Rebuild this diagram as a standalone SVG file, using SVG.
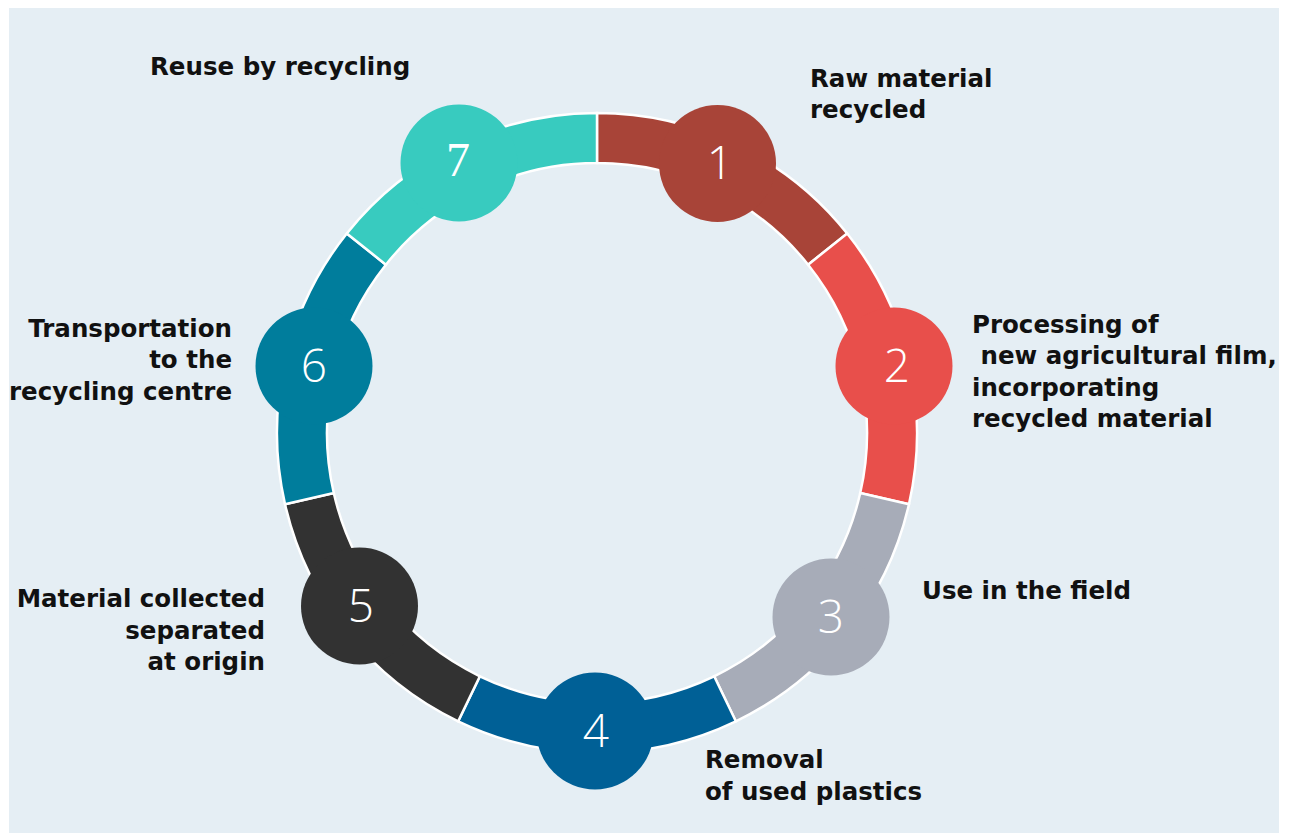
<svg xmlns="http://www.w3.org/2000/svg" width="1292" height="833" viewBox="0 0 1292 833">
<style>
.seg{stroke:#ffffff;stroke-width:2.5;stroke-linejoin:miter}
.lbl{font-family:"DejaVu Sans","Liberation Sans",sans-serif;font-weight:700;font-size:24.5px;fill:#111111}
.num{font-family:"Open Sans","Liberation Sans",sans-serif;font-weight:300;font-size:46px;fill:#ffffff;text-anchor:middle}
.num.serif{font-family:"Liberation Serif","DejaVu Serif",serif;font-weight:400;font-size:48px}
.end{text-anchor:end}
</style>
<rect x="9" y="8" width="1270" height="825" fill="#e5eef4"/>
<g id="ring">
<path class="seg" fill="#a84438" d="M597,113 A320,320 0 0 1 847.19,233.48 L808.09,264.66 A270,270 0 0 0 597,163 Z"/>
<path class="seg" fill="#e84f4b" d="M847.19,233.48 A320,320 0 0 1 908.98,504.21 L860.23,493.08 A270,270 0 0 0 808.09,264.66 Z"/>
<path class="seg" fill="#a7acb8" d="M908.98,504.21 A320,320 0 0 1 735.84,721.31 L714.15,676.26 A270,270 0 0 0 860.23,493.08 Z"/>
<path class="seg" fill="#006096" d="M735.84,721.31 A320,320 0 0 1 458.16,721.31 L479.85,676.26 A270,270 0 0 0 714.15,676.26 Z"/>
<path class="seg" fill="#323232" d="M458.16,721.31 A320,320 0 0 1 285.02,504.21 L333.77,493.08 A270,270 0 0 0 479.85,676.26 Z"/>
<path class="seg" fill="#007d9c" d="M285.02,504.21 A320,320 0 0 1 346.81,233.48 L385.91,264.66 A270,270 0 0 0 333.77,493.08 Z"/>
<path class="seg" fill="#38cbbf" d="M346.81,233.48 A320,320 0 0 1 597,113 L597,163 A270,270 0 0 0 385.91,264.66 Z"/>
</g>
<g id="node1"><circle cx="717.5" cy="163.5" r="58.5" fill="#a84438"/><text class="num" x="720" y="179">1</text>
<text class="lbl" x="810" y="87">Raw material</text><text class="lbl" x="810" y="118">recycled</text></g>
<g id="node2"><circle cx="894" cy="366" r="58.5" fill="#e84f4b"/><text class="num" x="897" y="382">2</text>
<text class="lbl" x="972" y="333">Processing of</text><text class="lbl" x="972" y="364" xml:space="preserve"> new agricultural film,</text><text class="lbl" x="972" y="396">incorporating</text><text class="lbl" x="972" y="427">recycled material</text></g>
<g id="node3"><circle cx="831" cy="617" r="58.5" fill="#a7acb8"/><text class="num" x="831" y="633">3</text>
<text class="lbl" x="922" y="599">Use in the field</text></g>
<g id="node4"><circle cx="595" cy="731" r="58.5" fill="#006096"/><text class="num" x="596" y="747">4</text>
<text class="lbl" x="705" y="768">Removal</text><text class="lbl" x="705" y="800">of used plastics</text></g>
<g id="node5"><circle cx="359.5" cy="606" r="58.5" fill="#323232"/><text class="num" x="361" y="622">5</text>
<text class="lbl end" x="265" y="607">Material collected</text><text class="lbl end" x="265" y="639">separated</text><text class="lbl end" x="265" y="670">at origin</text></g>
<g id="node6"><circle cx="314" cy="366" r="58.5" fill="#007d9c"/><text class="num" x="314" y="382">6</text>
<text class="lbl end" x="232" y="337">Transportation</text><text class="lbl end" x="232" y="368">to the</text><text class="lbl end" x="232" y="400">recycling centre</text></g>
<g id="node7"><circle cx="459" cy="163" r="58.5" fill="#38cbbf"/><text class="num serif" x="458" y="176">7</text>
<text class="lbl" x="150" y="75">Reuse by recycling</text></g>
</svg>
